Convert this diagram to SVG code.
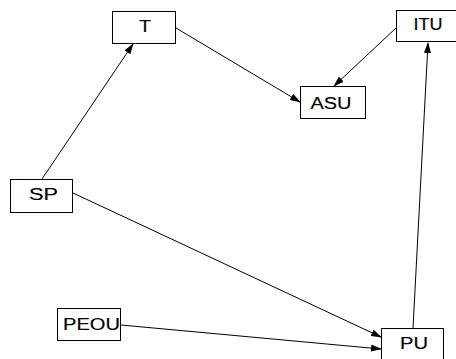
<svg xmlns="http://www.w3.org/2000/svg" width="456" height="359" viewBox="0 0 456 359">
<style>
.box{fill:#fff;stroke:#000;stroke-width:1}
.lbl{font-family:"Liberation Sans",Arial,sans-serif;font-size:16px;fill:#000;stroke:#000;stroke-width:0.15;text-anchor:middle}
.edge{stroke:#000;stroke-width:1;fill:none;marker-end:url(#ah)}
</style>
<defs>
<marker id="ah" markerWidth="11" markerHeight="7" refX="10" refY="3.5" orient="auto" markerUnits="userSpaceOnUse">
<path d="M0,0 L11,3.5 L0,7 Z" fill="#000"/>
</marker>
</defs>
<rect width="456" height="359" fill="#fff"/>
<g id="connectors">
<line class="edge" x1="42" y1="179" x2="133" y2="44"/>
<line class="edge" x1="176" y1="28" x2="300" y2="102"/>
<line class="edge" x1="396" y1="28" x2="334" y2="86"/>
<line class="edge" x1="73" y1="193" x2="381" y2="337"/>
<line class="edge" x1="121" y1="325" x2="381" y2="349"/>
<line class="edge" x1="413" y1="328" x2="428" y2="43"/>
</g>
<g id="T"><rect class="box" x="112.5" y="11.5" width="63" height="32"/><text class="lbl" x="145" y="32" textLength="12" lengthAdjust="spacingAndGlyphs">T</text></g>
<g id="ITU"><rect class="box" x="396.5" y="10.5" width="62" height="31"/><text class="lbl" x="428" y="29.5" textLength="29" lengthAdjust="spacingAndGlyphs">ITU</text></g>
<g id="ASU"><rect class="box" x="300.5" y="86.5" width="65" height="32"/><text class="lbl" x="331" y="108.5" textLength="41" lengthAdjust="spacingAndGlyphs">ASU</text></g>
<g id="SP"><rect class="box" x="10.5" y="179.5" width="62" height="33"/><text class="lbl" x="43.5" y="199.5" textLength="29" lengthAdjust="spacingAndGlyphs">SP</text></g>
<g id="PEOU"><rect class="box" x="57.5" y="308.5" width="63" height="32"/><text class="lbl" x="91.5" y="330" textLength="57" lengthAdjust="spacingAndGlyphs">PEOU</text></g>
<g id="PU"><rect class="box" x="381.5" y="328.5" width="62" height="40"/><text class="lbl" x="414" y="348.5" textLength="28" lengthAdjust="spacingAndGlyphs">PU</text></g>
</svg>
